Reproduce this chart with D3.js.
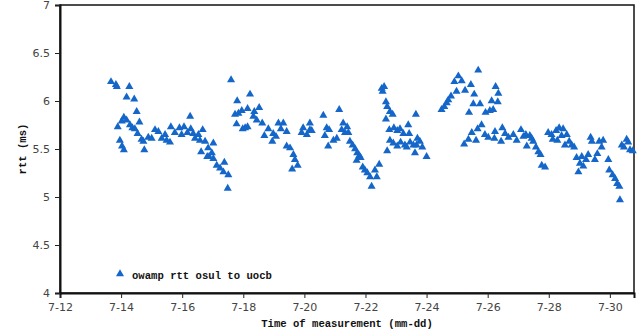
<!DOCTYPE html>
<html>
<head>
<meta charset="utf-8">
<script src="https://cdn.jsdelivr.net/npm/d3@7"></script>
<style>
  body { margin: 0; background: #fff; }
  .tick text { font-family: "DejaVu Sans", sans-serif; font-size: 11px; fill: #444; }
  .lbl { font-family: "Liberation Mono", "DejaVu Sans Mono", monospace; font-weight: bold; font-size: 10.6px; fill: #111; }
</style>
</head>
<body>
<div id="chart"></div>
<script>
// ---- data: measurement time (day of July, fractional) and rtt (ms) ----
const measureDay = [
  13.67, 13.83, 13.86, 13.89, 13.96, 14.02, 14.03, 14.09, 14.09, 14.18,
  14.18, 14.27, 14.29, 14.37, 14.43, 14.45, 14.51, 14.54, 14.60, 14.67,
  14.73, 14.76, 14.89, 15.00, 15.11, 15.22, 15.33, 15.44, 15.49, 15.60,
  15.63, 15.76, 15.91, 15.98, 16.06, 16.17, 16.26, 16.28, 16.36, 16.42,
  16.53, 16.58, 16.62, 16.67, 16.75, 16.82, 16.85, 16.88, 16.97, 17.02,
  17.02, 17.13, 17.24, 17.35, 17.38, 17.49, 17.51, 17.60, 17.73, 17.78,
  17.80, 17.84, 17.95, 17.98, 18.06, 18.14, 18.14, 18.22, 18.33, 18.36,
  18.44, 18.52, 18.62, 18.69, 18.82, 18.95, 18.98, 19.07, 19.15, 19.23,
  19.31, 19.42, 19.42, 19.53, 19.60, 19.64, 19.69, 19.78, 19.91, 19.96,
  20.08, 20.18, 20.18, 20.24, 20.62, 20.67, 20.73, 20.78, 20.81, 20.95,
  21.06, 21.14, 21.22, 21.27, 21.33, 21.40, 21.44, 21.49, 21.58, 21.66,
  21.71, 21.73, 21.80, 21.84, 21.91, 21.98, 22.06, 22.15, 22.20, 22.31,
  22.37, 22.45, 22.53, 22.56, 22.61, 22.67, 22.67, 22.71, 22.71, 22.78,
  22.80, 22.80, 22.89, 22.91, 22.93, 23.04, 23.04, 23.13, 23.15, 23.24,
  23.29, 23.35, 23.40, 23.43, 23.46, 23.57, 23.62, 23.65, 23.70, 23.78,
  23.67, 23.86, 24.00, 24.49, 24.58, 24.66, 24.71, 24.80, 24.91, 24.98,
  25.04, 25.15, 25.23, 25.26, 25.37, 25.39, 25.45, 25.48, 25.53, 25.56,
  25.62, 25.67, 25.69, 25.75, 25.80, 25.91, 25.93, 26.02, 26.07, 26.13,
  26.18, 26.22, 26.24, 26.26, 26.33, 26.35, 26.44, 26.48, 26.57, 26.68,
  26.84, 26.95, 27.09, 27.17, 27.25, 27.28, 27.38, 27.44, 27.49, 27.58,
  27.66, 27.73, 27.77, 27.88, 27.98, 28.09, 28.13, 28.24, 28.28, 28.34,
  28.42, 28.47, 28.53, 28.59, 28.67, 28.75, 28.83, 28.91, 28.97, 29.02,
  29.08, 29.13, 29.22, 29.29, 29.37, 29.41, 29.51, 29.59, 29.65, 29.73,
  29.78, 29.95, 29.98, 30.09, 30.17, 30.24, 30.31, 30.33, 30.39, 30.46,
  30.55, 30.60, 30.66, 30.75
];
const rttMs = [
  6.20, 6.17, 6.15, 5.73, 5.59, 5.79, 5.53, 5.83, 5.49, 6.04,
  5.80, 6.15, 5.75, 5.72, 6.02, 5.71, 5.89, 5.66, 5.78, 5.60,
  5.58, 5.49, 5.62, 5.61, 5.70, 5.68, 5.61, 5.65, 5.59, 5.57,
  5.73, 5.67, 5.72, 5.65, 5.73, 5.67, 5.84, 5.71, 5.66, 5.61,
  5.65, 5.59, 5.47, 5.70, 5.58, 5.42, 5.51, 5.42, 5.46, 5.56,
  5.40, 5.33, 5.30, 5.26, 5.36, 5.09, 5.23, 6.22, 5.86, 5.76,
  6.00, 5.87, 5.90, 5.71, 5.72, 5.92, 5.73, 6.07, 5.84, 5.89,
  5.80, 5.93, 5.77, 5.64, 5.71, 5.58, 5.66, 5.63, 5.77, 5.71,
  5.77, 5.68, 5.53, 5.51, 5.29, 5.44, 5.39, 5.33, 5.67, 5.72,
  5.65, 5.77, 5.70, 5.69, 5.85, 5.64, 5.72, 5.53, 5.70, 5.59,
  5.61, 5.91, 5.70, 5.77, 5.67, 5.73, 5.67, 5.58, 5.54, 5.50,
  5.38, 5.46, 5.43, 5.41, 5.31, 5.28, 5.25, 5.21, 5.11, 5.28,
  5.21, 5.34, 6.13, 6.10, 6.15, 5.99, 5.81, 5.94, 5.48, 5.70,
  5.89, 5.59, 5.86, 5.56, 5.72, 5.69, 5.53, 5.71, 5.57, 5.66,
  5.54, 5.52, 5.75, 5.66, 5.57, 5.54, 5.46, 5.86, 5.61, 5.58,
  5.54, 5.52, 5.42, 5.91, 5.94, 5.98, 6.01, 6.05, 6.20, 6.10,
  6.26, 6.21, 5.55, 6.11, 5.60, 5.88, 6.17, 5.67, 5.97, 6.07,
  5.59, 5.71, 6.32, 5.97, 5.75, 5.65, 5.88, 5.62, 5.90, 6.00,
  5.91, 5.61, 5.68, 6.15, 5.99, 6.08, 5.58, 5.72, 5.66, 5.62,
  5.65, 5.59, 5.70, 5.63, 5.65, 5.53, 5.64, 5.61, 5.58, 5.52,
  5.47, 5.44, 5.33, 5.31, 5.67, 5.65, 5.60, 5.69, 5.59, 5.72,
  5.64, 5.71, 5.54, 5.65, 5.58, 5.54, 5.52, 5.41, 5.26, 5.35,
  5.42, 5.32, 5.39, 5.44, 5.62, 5.58, 5.39, 5.45, 5.58, 5.52,
  5.59, 5.39, 5.28, 5.23, 5.19, 5.14, 5.11, 4.97, 5.54, 5.52,
  5.60, 5.57, 5.49, 5.48
];
const xTickDays = [12, 14, 16, 18, 20, 22, 24, 26, 28, 30];
const yTicks = [4, 4.5, 5, 5.5, 6, 6.5, 7];
const seriesName = "owamp rtt osul to uocb";

const W = 643, H = 333;
const margin = { top: 5, right: 9, bottom: 40, left: 60 };
const plotW = W - margin.left - margin.right;
const plotH = H - margin.top - margin.bottom;

// day of July -> UTC date
const julyStart = Date.UTC(2008, 6, 1);
function toDate(day) { return new Date(julyStart + (day - 1) * 864e5); }

const points = measureDay.map((d, i) => ({ t: toDate(d), v: rttMs[i] }));

const x = d3.scaleUtc()
  .domain([toDate(12), toDate(30.79)])
  .range([0, plotW]);
const y = d3.scaleLinear()
  .domain([4, 7])
  .range([plotH, 0]);

const svg = d3.select("#chart").append("svg")
  .attr("width", W)
  .attr("height", H);

const g = svg.append("g")
  .attr("transform", `translate(${margin.left},${margin.top})`);

// frame
g.append("rect")
  .attr("x", 0).attr("y", 0)
  .attr("width", plotW).attr("height", plotH)
  .attr("fill", "none")
  .attr("stroke", "#111")
  .attr("stroke-width", 1.5);

const xAxis = g.append("g")
  .attr("transform", `translate(0,${plotH})`)
  .call(d3.axisBottom(x)
    .tickValues(xTickDays.map(toDate))
    .tickFormat(d3.utcFormat("%-m-%d"))
    .tickSize(5)
    .tickPadding(5));

const yAxis = g.append("g")
  .call(d3.axisLeft(y)
    .tickValues(yTicks)
    .tickFormat(d3.format("~g"))
    .tickSize(5)
    .tickPadding(5));

[xAxis, yAxis].forEach(a => {
  a.select(".domain").attr("stroke", "#111").attr("stroke-width", 2);
  a.selectAll(".tick line").attr("stroke", "#222");
});

const tri = d3.symbol().type(d3.symbolTriangle).size(28);
const blue = "#1466c8";

g.append("g")
  .selectAll("path")
  .data(points)
  .enter()
  .append("path")
  .attr("d", tri)
  .attr("transform", d => `translate(${x(d.t)},${y(d.v)})`)
  .attr("fill", blue);

// legend
const legend = g.append("g").attr("transform", `translate(60,${plotH - 19})`);
legend.append("path").attr("d", tri).attr("fill", blue);
legend.append("text")
  .attr("class", "lbl")
  .attr("x", 12).attr("y", 5)
  .text(seriesName);

// axis titles
svg.append("text")
  .attr("class", "lbl")
  .attr("x", margin.left + plotW / 2 + 0)
  .attr("y", 327)
  .attr("text-anchor", "middle")
  .text("Time of measurement (mm-dd)");

svg.append("text")
  .attr("class", "lbl")
  .attr("transform", `translate(26,${margin.top + plotH / 2}) rotate(-90)`)
  .attr("text-anchor", "middle")
  .text("rtt (ms)");
</script>
</body>
</html>
